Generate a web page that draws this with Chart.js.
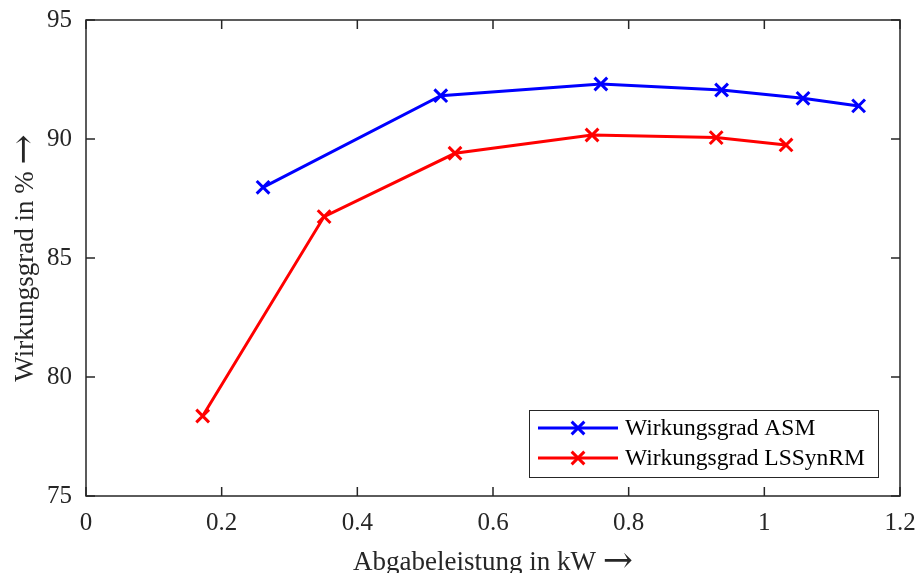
<!DOCTYPE html>
<html>
<head>
<meta charset="utf-8">
<script src="https://cdn.jsdelivr.net/npm/chart.js@4"></script>
<style>
  html, body { margin: 0; padding: 0; background: #fff; }
  #wrap { width: 916px; height: 573px; }
</style>
</head>
<body>
<div id="wrap"><canvas id="chart"></canvas></div>
<script>
// values
const asmPower = [0.261, 0.523, 0.759, 0.937, 1.057, 1.139]
const asmEff = [87.97, 91.82, 92.31, 92.06, 91.71, 91.39]
const synPower = [0.172, 0.351, 0.544, 0.746, 0.929, 1.032]
const synEff = [78.36, 86.74, 89.40, 90.17, 90.06, 89.75]
const seriesNames = ['Wirkungsgrad ASM', 'Wirkungsgrad LSSynRM']
const xTicks = [0, 0.2, 0.4, 0.6, 0.8, 1, 1.2]
const xTickLabels = ['0', '0.2', '0.4', '0.6', '0.8', '1', '1.2']
const yTicks = [75, 80, 85, 90, 95]
const yTickLabels = ['75', '80', '85', '90', '95']
const xTitle = 'Abgabeleistung in kW'
const yTitle = 'Wirkungsgrad in %'
const arrow = '\u2192'

const serif = '"Liberation Serif", "Times New Roman", serif'
const axisColor = '#262626'

const toPoints = (xs, ys) => xs.map((x, i) => ({ x: x, y: ys[i] }))

// title text followed by a wide arrow, centred on (0, 0)
function titleWithArrow(ctx, text) {
  ctx.font = '27px ' + serif
  const w1 = ctx.measureText(text + ' ').width
  ctx.font = '36px "DejaVu Serif", serif'
  const w2 = ctx.measureText(arrow).width
  const x0 = -(w1 + w2) / 2
  ctx.textAlign = 'left'
  ctx.font = '27px ' + serif
  ctx.fillText(text + ' ', x0, 0)
  ctx.font = '36px "DejaVu Serif", serif'
  ctx.fillText(arrow, x0 + w1, 2)
}

// box, inward ticks, axis titles and legend
const frame = {
  id: 'frame',
  afterDatasetsDraw(chart) {
    const { ctx, chartArea: a, scales } = chart
    const tl = 9
    ctx.save()
    ctx.strokeStyle = axisColor
    ctx.lineWidth = 1.5
    ctx.strokeRect(a.left, a.top, a.right - a.left, a.bottom - a.top)
    ctx.beginPath()
    xTicks.forEach(v => {
      const px = scales.x.getPixelForValue(v)
      ctx.moveTo(px, a.bottom); ctx.lineTo(px, a.bottom - tl)
      ctx.moveTo(px, a.top); ctx.lineTo(px, a.top + tl)
    })
    yTicks.forEach(v => {
      const py = scales.y.getPixelForValue(v)
      ctx.moveTo(a.left, py); ctx.lineTo(a.left + tl, py)
      ctx.moveTo(a.right, py); ctx.lineTo(a.right - tl, py)
    })
    ctx.stroke()

    // axis titles
    ctx.fillStyle = axisColor
    ctx.textBaseline = 'alphabetic'
    ctx.save()
    ctx.translate((a.left + a.right) / 2, 570)
    titleWithArrow(ctx, xTitle)
    ctx.restore()
    ctx.save()
    ctx.translate(33, (a.top + a.bottom) / 2)
    ctx.rotate(-Math.PI / 2)
    titleWithArrow(ctx, yTitle)
    ctx.restore()

    // legend
    const lx = 529, ly = 410, lw = 349, lh = 67
    ctx.fillStyle = '#fff'
    ctx.fillRect(lx, ly, lw, lh)
    ctx.strokeStyle = axisColor
    ctx.lineWidth = 1
    ctx.strokeRect(lx + 0.5, ly + 0.5, lw, lh)
    const rows = [428, 458]
    chart.data.datasets.forEach((ds, i) => {
      const y = rows[i]
      ctx.strokeStyle = ds.borderColor
      ctx.lineWidth = 3
      ctx.beginPath()
      ctx.moveTo(538, y); ctx.lineTo(618, y)
      ctx.stroke()
      Chart.helpers.drawPoint(ctx, { pointStyle: 'crossRot', radius: 9, rotation: 0, borderWidth: 3 }, 578, y)
      ctx.fillStyle = '#000'
      ctx.font = '23.5px ' + serif
      ctx.textAlign = 'left'
      ctx.textBaseline = 'middle'
      ctx.fillText(ds.label, 625, y + 1)
    })
    ctx.restore()
  }
}

const ctx1 = document.getElementById('chart').getContext('2d')

let line_chart = new Chart(ctx1, {
  type: 'line',
  data: {
    datasets: [{
      label: seriesNames[0],
      data: toPoints(asmPower, asmEff),
      borderColor: '#0000ff',
      backgroundColor: '#0000ff',
      borderWidth: 3,
      pointStyle: 'crossRot',
      pointRadius: 9,
      pointBorderWidth: 3,
      tension: 0
    }, {
      label: seriesNames[1],
      data: toPoints(synPower, synEff),
      borderColor: '#ff0000',
      backgroundColor: '#ff0000',
      borderWidth: 3,
      pointStyle: 'crossRot',
      pointRadius: 9,
      pointBorderWidth: 3,
      tension: 0
    }]
  },
  options: {
    responsive: true,
    maintainAspectRatio: false,
    animation: false,
    events: [],
    layout: { padding: { top: 20, right: 16, left: 0, bottom: 0 } },
    plugins: { legend: { display: false }, tooltip: { enabled: false } },
    scales: {
      x: {
        type: 'linear',
        min: 0,
        max: 1.2,
        afterBuildTicks: s => { s.ticks = xTicks.map(v => ({ value: v })) },
        afterFit: s => { s.height = 77; s.paddingLeft = 0; s.paddingRight = 0 },
        grid: { display: false, drawTicks: false },
        border: { display: false },
        ticks: {
          padding: 12,
          color: axisColor,
          font: { family: serif, size: 25 },
          maxRotation: 0,
          callback: (v, i) => xTickLabels[i]
        }
      },
      y: {
        type: 'linear',
        min: 75,
        max: 95,
        afterBuildTicks: s => { s.ticks = yTicks.map(v => ({ value: v })) },
        afterFit: s => { s.width = 86; s.paddingTop = 0; s.paddingBottom = 0 },
        grid: { display: false, drawTicks: false },
        border: { display: false },
        ticks: {
          padding: 14,
          color: axisColor,
          font: { family: serif, size: 25 },
          callback: (v, i) => yTickLabels[i]
        }
      }
    }
  },
  plugins: [frame]
})
</script>
</body>
</html>
